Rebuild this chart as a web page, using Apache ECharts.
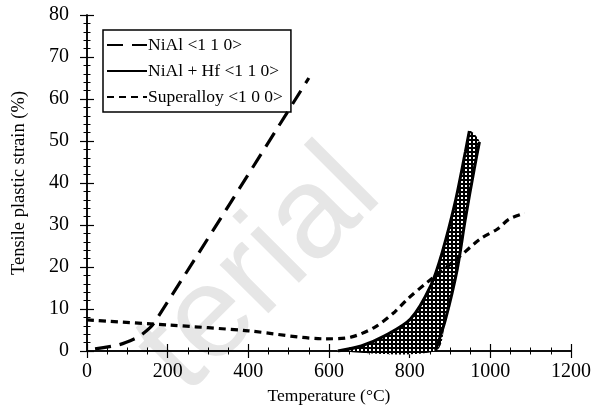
<!DOCTYPE html>
<html>
<head>
<meta charset="utf-8">
<script src="https://cdn.jsdelivr.net/npm/echarts@6/dist/echarts.min.js"></script>
<style>
html, body { margin: 0; padding: 0; background: #fff; }
#main { width: 597px; height: 410px; }
</style>
</head>
<body>
<div id="main"></div>
<script>
var myChart = echarts.init(document.getElementById('main'));

// NiAl <1 1 0>
var nialT = [20, 80, 130, 165, 550];
var nialS = [0.5, 1.5, 3.5, 6.5, 65];

// Superalloy <1 0 0>
var superT = [0, 200, 400, 590, 654, 714, 763, 795, 844, 918, 975, 1017, 1047, 1085];
var superS = [7.4, 6.2, 4.8, 2.9, 3.3, 5.7, 9.3, 12.4, 16.4, 22, 26.7, 29, 31.4, 32.8];

// NiAl + Hf <1 1 0>, two bounding curves
var hfLeftT = [622, 680, 738, 802, 852, 881, 913, 938, 948];
var hfLeftS = [0, 1.2, 3.6, 7.6, 15.5, 23.6, 35.5, 47.4, 52.4];
var hfRightT = [864, 889, 918, 938, 960, 973];
var hfRightS = [0, 7.6, 19.5, 31.4, 43.3, 49.8];

var legendNames = ['NiAl <1 1 0>', 'NiAl + Hf <1 1 0>', 'Superalloy <1 0 0>'];

function pairs(xs, ys) {
    return xs.map(function (x, i) { return [x, ys[i]]; });
}

// crosshatch pattern
var pat = document.createElement('canvas');
pat.width = 4;
pat.height = 4;
var pctx = pat.getContext('2d');
pctx.fillStyle = '#000';
pctx.fillRect(0, 0, 4, 4);
pctx.fillStyle = '#fff';
pctx.fillRect(1, 1, 2, 2);

var serif = 'Liberation Serif';
var tickSty = { inside: true, length: 7, lineStyle: { color: '#000', width: 1.2 } };
function minor(n) {
    return { show: true, splitNumber: n, length: 3.5, lineStyle: { color: '#000', width: 1 } };
}
var labelSty = {
    fontFamily: serif, fontSize: 20, color: '#000',
    formatter: function (v) { return String(v); }
};

option = {
    animation: false,
    grid: { left: 87, right: 26, top: 15, bottom: 58 },
    graphic: [{
        type: 'text',
        x: 206,
        y: 417,
        rotation: 45 * Math.PI / 180,
        z: -10,
        silent: true,
        style: {
            text: 'terial',
            fontSize: 130,
            fontFamily: 'Liberation Sans',
            fill: '#e6e6e6',
            textAlign: 'left',
            textVerticalAlign: 'bottom'
        }
    }],
    legend: {
        orient: 'vertical',
        left: 103,
        top: 30,
        itemWidth: 40,
        itemHeight: 12,
        itemGap: 8,
        padding: [6, 8, 6, 3],
        borderColor: '#000',
        borderWidth: 1.5,
        itemStyle: { opacity: 0 },
        textStyle: { fontFamily: serif, fontSize: 17.5, color: '#000', padding: [0, 0, 0, -4] },
        data: legendNames
    },
    xAxis: [{
        type: 'value',
        min: 0, max: 1200, interval: 200,
        name: 'Temperature (°C)',
        nameLocation: 'middle',
        nameGap: 36,
        nameTextStyle: { fontFamily: serif, fontSize: 17.5, color: '#000' },
        axisLine: { lineStyle: { color: '#000', width: 1.5 } },
        axisTick: tickSty,
        minorTick: minor(4),
        splitLine: { show: false },
        axisLabel: Object.assign({ margin: 11 }, labelSty)
    }, {
        type: 'value', position: 'top',
        min: 0, max: 1200, interval: 200,
        axisLine: { lineStyle: { color: '#000', width: 1.5 } },
        axisTick: tickSty,
        minorTick: minor(4),
        splitLine: { show: false },
        axisLabel: { show: false }
    }],
    yAxis: [{
        type: 'value',
        min: 0, max: 80, interval: 10,
        name: 'Tensile plastic strain (%)',
        nameLocation: 'middle',
        nameGap: 58,
        nameTextStyle: { fontFamily: serif, fontSize: 18.5, color: '#000' },
        axisLine: { show: true, lineStyle: { color: '#000', width: 1.5 } },
        axisTick: tickSty,
        minorTick: minor(5),
        splitLine: { show: false },
        axisLabel: Object.assign({ margin: 18 }, labelSty)
    }, {
        type: 'value', position: 'right',
        min: 0, max: 80, interval: 10,
        axisLine: { show: true, lineStyle: { color: '#000', width: 1.5 } },
        axisTick: tickSty,
        minorTick: minor(5),
        splitLine: { show: false },
        axisLabel: { show: false }
    }],
    series: [{
        name: 'NiAl <1 1 0>',
        type: 'line',
        symbol: 'none',
        smooth: 0.2,
        lineStyle: { color: '#000', width: 3.2, type: [16, 9] },
        itemStyle: { color: '#000' },
        data: pairs(nialT, nialS)
    }, {
        name: 'NiAl + Hf <1 1 0>',
        type: 'line',
        symbol: 'none',
        smooth: 0.3,
        lineStyle: { color: '#000', width: 3 },
        itemStyle: { color: '#000' },
        data: pairs(hfLeftT, hfLeftS)
    }, {
        name: 'NiAl + Hf <1 1 0>',
        type: 'line',
        symbol: 'none',
        smooth: 0.3,
        lineStyle: { color: '#000', width: 3 },
        itemStyle: { color: '#000' },
        data: pairs(hfRightT, hfRightS)
    }, {
        name: 'Superalloy <1 0 0>',
        type: 'line',
        symbol: 'none',
        smooth: 0.3,
        lineStyle: { color: '#000', width: 3.2, type: [7, 5] },
        itemStyle: { color: '#000' },
        data: pairs(superT, superS)
    }, {
        name: 'hfHatch',
        type: 'custom',
        data: [0],
        silent: true,
        z: 1,
        renderItem: function (params, api) {
            var pts = [];
            hfLeftT.forEach(function (t, i) { pts.push(api.coord([t, hfLeftS[i]])); });
            for (var i = hfRightT.length - 1; i >= 0; i--) {
                pts.push(api.coord([hfRightT[i], hfRightS[i]]));
            }
            return {
                type: 'polygon',
                shape: { points: pts, smooth: 0.3 },
                style: { fill: { image: pat, repeat: 'repeat' }, stroke: null }
            };
        }
    }]
};

myChart.setOption(option);
</script>
</body>
</html>
